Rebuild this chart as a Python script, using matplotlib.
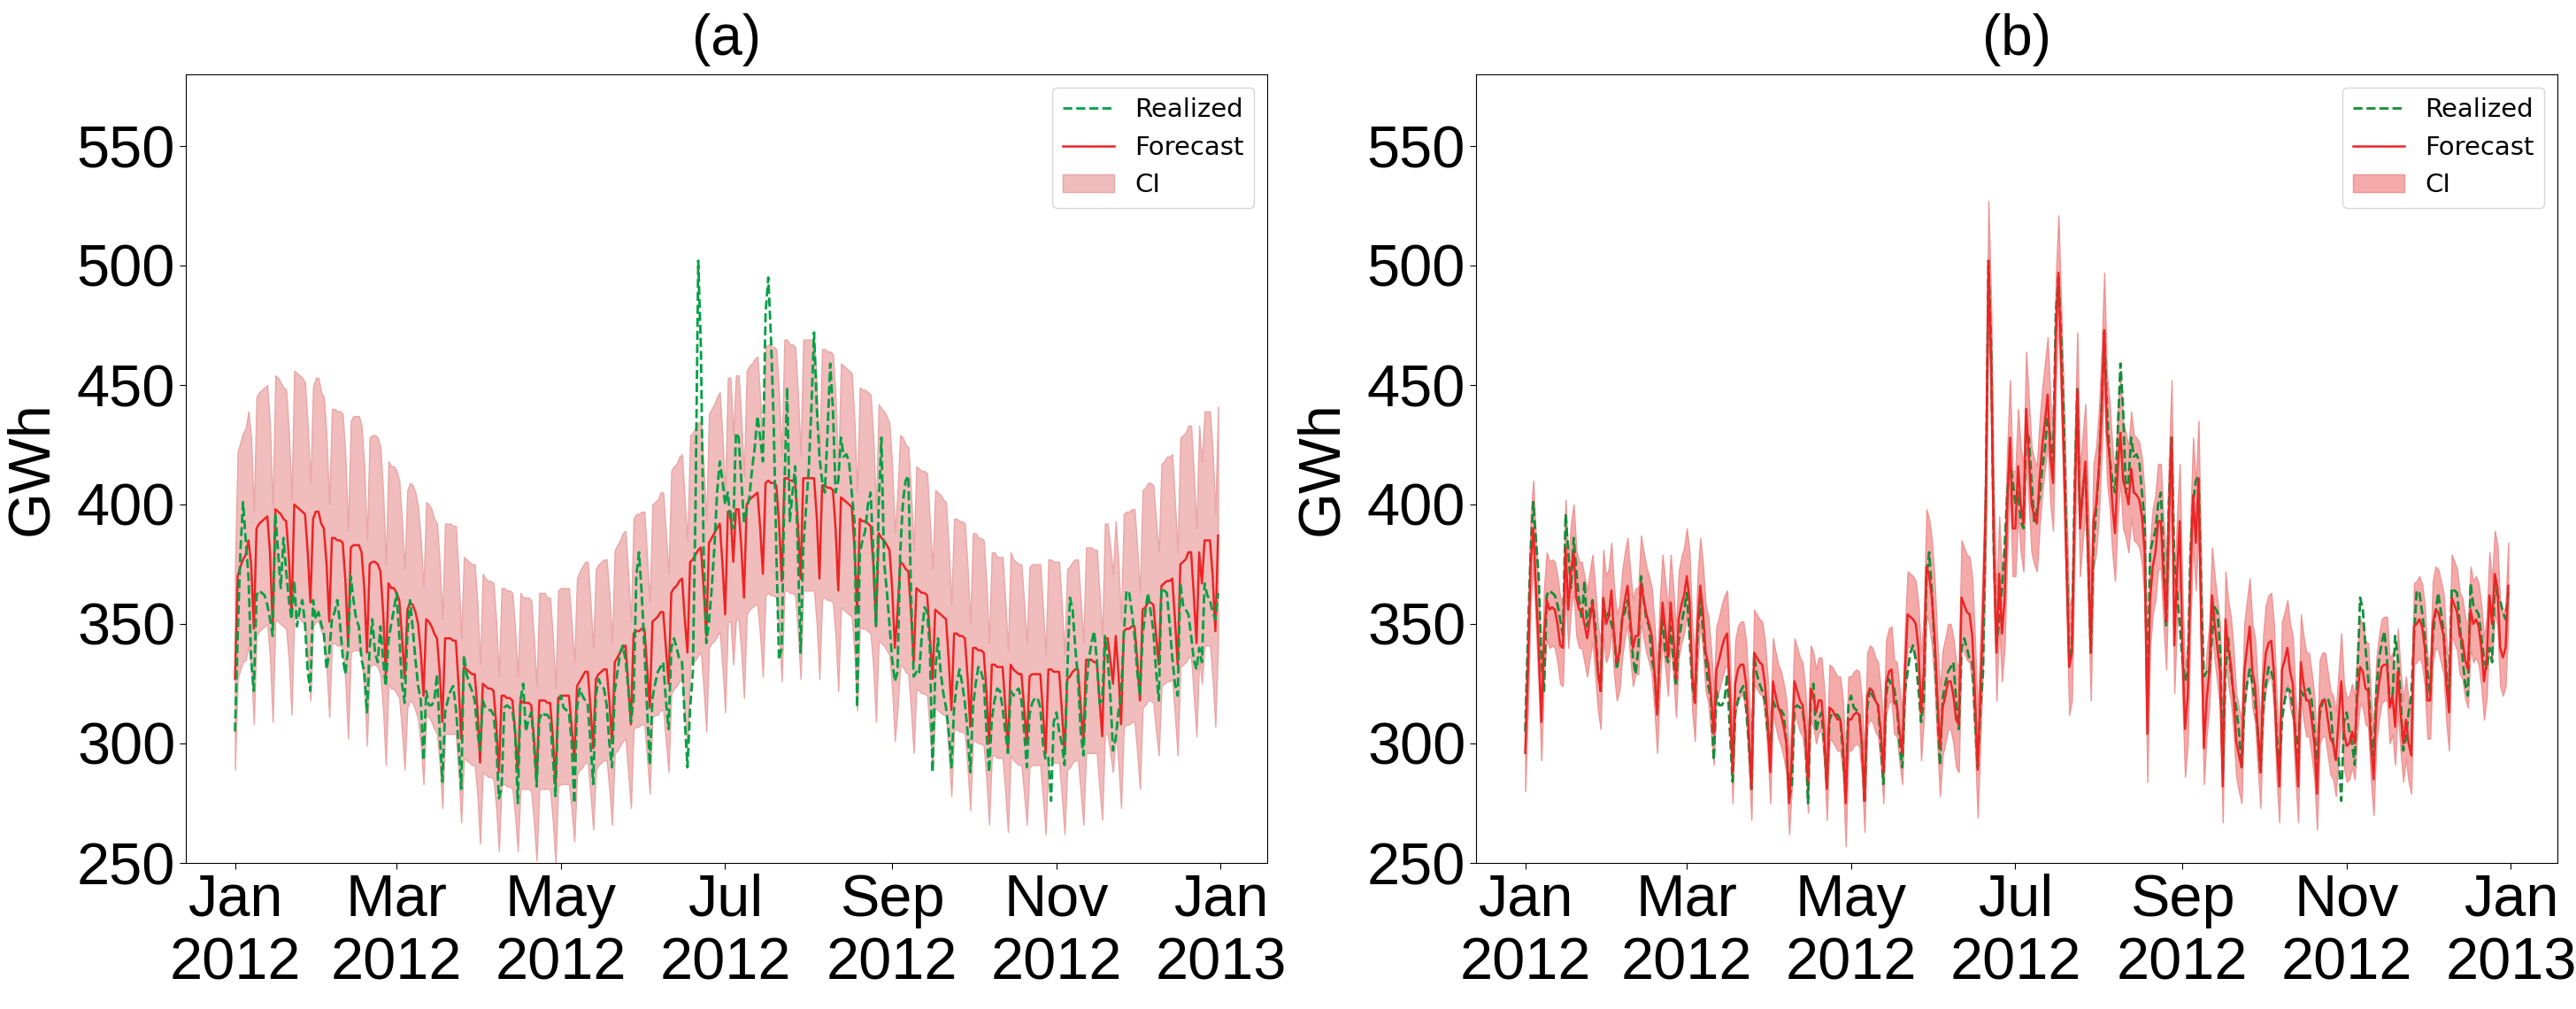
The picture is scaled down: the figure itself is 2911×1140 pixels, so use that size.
import pandas as pd
import matplotlib
matplotlib.use('Agg')
import matplotlib.pyplot as plt
import matplotlib.dates as mdates

# daily values for 2012, one row per week (Sun..Sat)
realized = [
    305, 345, 380, 401, 385, 370, 335,
    322, 362, 364, 363, 362, 358, 352,
    345, 396, 380, 365, 386, 372, 360,
    352, 368, 349, 356, 360, 350, 330,
    322, 360, 352, 355, 350, 346, 331,
    338, 352, 355, 360, 350, 336, 329,
    340, 370, 360, 352, 349, 335, 330,
    313, 340, 352, 338, 334, 349, 335,
    324, 343, 350, 356, 363, 345, 325,
    317, 345, 360, 348, 335, 324, 318,
    293, 322, 316, 316, 318, 329, 305,
    284, 313, 318, 322, 324, 315, 300,
    281, 337, 329, 325, 322, 318, 305,
    297, 318, 315, 314, 314, 312, 300,
    277, 282, 315, 316, 315, 314, 305,
    275, 318, 325, 305, 310, 313, 300,
    282, 310, 313, 312, 312, 310, 295,
    278, 316, 320, 315, 314, 313, 300,
    275, 315, 323, 320, 318, 316, 300,
    283, 320, 327, 324, 323, 316, 300,
    290, 322, 330, 338, 341, 335, 323,
    309, 318, 370, 380, 363, 340, 315,
    291, 319, 325, 330, 332, 334, 318,
    306, 340, 344, 340, 335, 334, 310,
    290, 315, 330, 400, 502, 465, 380,
    342, 351, 365, 382, 405, 418, 410,
    400, 405, 393, 390, 430, 428, 410,
    393, 398, 403, 415, 424, 437, 428,
    418, 480, 495, 470, 435, 380, 335,
    340, 407, 449, 393, 405, 416, 380,
    338, 382, 398, 414, 440, 472, 441,
    420, 410, 405, 430, 459, 440, 405,
    410, 428, 420, 421, 418, 405, 393,
    315, 380, 385, 389, 400, 405, 380,
    349, 400, 428, 376, 364, 350, 335,
    326, 330, 380, 401, 410, 412, 363,
    328, 330, 329, 345, 357, 355, 340,
    288, 330, 344, 330, 321, 315, 305,
    290, 315, 325, 331, 325, 317, 305,
    288, 315, 325, 332, 330, 326, 305,
    288, 310, 318, 323, 322, 315, 305,
    296, 322, 320, 322, 323, 318, 305,
    290, 312, 317, 319, 319, 315, 300,
    293, 294, 276, 309, 313, 305, 300,
    291, 329, 361, 356, 340, 327, 305,
    295, 322, 335, 342, 347, 335, 317,
    318, 345, 336, 320, 297, 302, 313,
    320, 345, 364, 363, 355, 345, 330,
    320, 345, 355, 363, 355, 347, 330,
    318, 365, 364, 363, 350, 336, 325,
    320, 367, 358, 356, 354, 345, 335,
    331, 340, 334, 367, 362, 360, 355,
    352, 363,
]

forecast_a = [
    327, 370, 374, 377, 379, 385, 375,
    348, 390, 392, 393, 394, 395, 380,
    349, 398, 397, 396, 394, 393, 378,
    353, 400, 399, 398, 397, 396, 380,
    359, 394, 397, 397, 392, 390, 375,
    351, 386, 386, 385, 385, 384, 368,
    341, 382, 383, 383, 383, 380, 365,
    338, 375, 376, 376, 375, 372, 355,
    329, 367, 365, 365, 363, 360, 345,
    327, 356, 359, 358, 355, 350, 338,
    320, 352, 351, 349, 346, 344, 330,
    309, 344, 344, 344, 343, 343, 325,
    302, 332, 331, 330, 329, 329, 315,
    292, 325, 324, 323, 323, 322, 308,
    288, 320, 320, 319, 319, 318, 305,
    288, 318, 317, 317, 317, 316, 302,
    284, 318, 318, 318, 317, 317, 303,
    283, 319, 320, 320, 320, 320, 307,
    293, 324, 326, 328, 330, 330, 315,
    298, 327, 329, 330, 331, 331, 318,
    300, 334, 336, 338, 340, 341, 325,
    308, 346, 347, 347, 348, 348, 332,
    315, 351, 352, 353, 355, 355, 340,
    325, 363, 365, 366, 368, 369, 352,
    338, 376, 377, 379, 381, 382, 365,
    345, 384, 386, 388, 390, 392, 375,
    354, 397, 397, 376, 398, 398, 382,
    361, 400, 402, 403, 404, 405, 390,
    371, 409, 410, 409, 409, 408, 392,
    368, 411, 411, 410, 410, 409, 392,
    369, 411, 411, 411, 411, 411, 395,
    369, 408, 408, 407, 407, 406, 390,
    364, 403, 402, 401, 400, 399, 382,
    355, 394, 393, 393, 392, 391, 375,
    349, 388, 386, 385, 383, 381, 365,
    340, 355, 376, 375, 373, 372, 355,
    334, 365, 364, 363, 363, 362, 345,
    327, 356, 355, 354, 353, 352, 335,
    314, 346, 346, 345, 345, 344, 328,
    307, 340, 340, 339, 339, 338, 322,
    300, 333, 333, 332, 332, 332, 316,
    297, 333, 331, 330, 329, 329, 315,
    300, 328, 329, 329, 329, 329, 313,
    296, 331, 331, 330, 330, 330, 314,
    296, 327, 328, 330, 331, 331, 316,
    300, 335, 335, 335, 334, 334, 318,
    303, 344, 344, 335, 325, 345, 330,
    308, 347, 348, 348, 349, 349, 335,
    318, 356, 357, 359, 359, 358, 345,
    333, 366, 367, 368, 368, 369, 352,
    333, 375, 376, 377, 380, 380, 362,
    342, 380, 367, 385, 385, 385, 370,
    347, 387,
]

ci_a_high = [
    373, 422, 426, 430, 432, 439, 428,
    397, 445, 447, 448, 449, 450, 433,
    398, 454, 453, 451, 449, 448, 431,
    402, 456, 455, 454, 453, 451, 433,
    409, 449, 453, 453, 447, 445, 428,
    400, 440, 440, 439, 439, 438, 420,
    389, 435, 437, 437, 437, 433, 416,
    385, 428, 429, 429, 428, 424, 405,
    375, 418, 416, 416, 414, 410, 393,
    373, 406, 409, 408, 405, 399, 385,
    365, 401, 400, 398, 394, 392, 376,
    352, 392, 392, 392, 391, 391, 371,
    344, 378, 377, 376, 375, 375, 359,
    333, 371, 369, 368, 368, 367, 351,
    328, 365, 365, 364, 364, 363, 348,
    328, 363, 361, 361, 361, 360, 344,
    324, 363, 363, 363, 361, 361, 345,
    323, 364, 365, 365, 365, 365, 350,
    334, 369, 372, 374, 376, 376, 359,
    340, 373, 375, 376, 377, 377, 363,
    342, 381, 383, 385, 388, 389, 371,
    351, 394, 396, 396, 397, 397, 378,
    359, 400, 401, 402, 405, 405, 388,
    371, 414, 416, 417, 420, 421, 401,
    385, 429, 430, 432, 434, 435, 416,
    393, 438, 440, 442, 445, 447, 428,
    404, 453, 453, 429, 454, 454, 435,
    412, 456, 458, 459, 461, 462, 445,
    423, 466, 467, 466, 466, 465, 447,
    420, 469, 469, 467, 467, 466, 447,
    421, 469, 469, 469, 469, 469, 450,
    421, 465, 465, 464, 464, 463, 445,
    415, 459, 458, 457, 456, 455, 435,
    405, 449, 448, 448, 447, 446, 428,
    398, 442, 440, 439, 437, 434, 416,
    388, 405, 429, 428, 425, 424, 405,
    381, 416, 415, 414, 414, 413, 393,
    373, 406, 405, 404, 402, 401, 382,
    358, 394, 394, 393, 393, 392, 374,
    350, 388, 388, 386, 386, 385, 367,
    342, 380, 380, 378, 378, 378, 360,
    339, 380, 377, 376, 375, 375, 359,
    342, 374, 375, 375, 375, 375, 357,
    337, 377, 377, 376, 376, 376, 358,
    337, 373, 374, 376, 377, 377, 360,
    342, 382, 382, 382, 381, 381, 363,
    345, 392, 392, 382, 371, 393, 376,
    351, 396, 397, 397, 398, 398, 382,
    363, 406, 407, 409, 409, 408, 393,
    380, 417, 418, 420, 420, 421, 401,
    380, 428, 429, 430, 433, 433, 413,
    390, 433, 418, 439, 439, 439, 422,
    396, 441,
]

ci_a_low = [
    289, 327, 331, 334, 335, 341, 332,
    308, 345, 347, 348, 349, 350, 336,
    309, 352, 351, 350, 349, 348, 335,
    312, 354, 353, 352, 351, 350, 336,
    318, 349, 351, 351, 347, 345, 332,
    311, 342, 342, 341, 341, 340, 326,
    302, 338, 339, 339, 339, 336, 323,
    299, 332, 333, 333, 332, 329, 314,
    291, 325, 323, 323, 321, 319, 305,
    289, 315, 318, 317, 314, 310, 299,
    283, 312, 311, 309, 306, 304, 292,
    273, 304, 304, 304, 304, 304, 288,
    267, 294, 293, 292, 291, 291, 279,
    258, 288, 287, 286, 286, 285, 273,
    255, 283, 283, 282, 282, 281, 270,
    255, 281, 281, 281, 281, 280, 267,
    251, 281, 281, 281, 281, 281, 268,
    250, 282, 283, 283, 283, 283, 272,
    259, 287, 289, 290, 292, 292, 279,
    264, 289, 291, 292, 293, 293, 281,
    266, 296, 297, 299, 301, 302, 288,
    273, 306, 307, 307, 308, 308, 294,
    279, 311, 312, 312, 314, 314, 301,
    288, 321, 323, 324, 326, 327, 312,
    299, 333, 334, 335, 337, 338, 323,
    305, 340, 342, 343, 345, 347, 332,
    313, 351, 351, 333, 352, 352, 338,
    319, 354, 356, 357, 358, 358, 345,
    328, 362, 363, 362, 362, 361, 347,
    326, 364, 364, 363, 363, 362, 347,
    327, 364, 364, 364, 364, 364, 350,
    327, 361, 361, 360, 360, 359, 345,
    322, 357, 356, 355, 354, 353, 338,
    314, 349, 348, 348, 347, 346, 332,
    309, 343, 342, 341, 339, 337, 323,
    301, 314, 333, 332, 330, 329, 314,
    296, 323, 322, 321, 321, 320, 305,
    289, 315, 314, 313, 312, 312, 296,
    278, 306, 306, 305, 305, 304, 290,
    272, 301, 301, 300, 300, 299, 285,
    266, 295, 295, 294, 294, 294, 280,
    263, 295, 293, 292, 291, 291, 279,
    266, 290, 291, 291, 291, 291, 277,
    262, 293, 293, 292, 292, 292, 278,
    262, 289, 290, 292, 293, 293, 280,
    266, 296, 296, 296, 296, 296, 281,
    268, 304, 304, 296, 288, 305, 292,
    273, 307, 308, 308, 309, 309, 296,
    281, 315, 316, 318, 318, 317, 305,
    295, 324, 325, 326, 326, 327, 312,
    295, 332, 333, 334, 336, 336, 320,
    303, 336, 325, 341, 341, 341, 327,
    307, 342,
]

forecast_b = [
    296, 330, 375, 390, 365, 340, 309,
    345, 360, 356, 357, 356, 350, 341,
    340, 382, 356, 372, 380, 361, 356,
    356, 350, 344, 352, 359, 345, 330,
    322, 361, 350, 353, 364, 345, 334,
    338, 352, 360, 366, 352, 340, 345,
    345, 367, 360, 354, 350, 345, 330,
    312, 340, 359, 348, 336, 359, 345,
    327, 352, 358, 362, 370, 360, 330,
    317, 350, 366, 355, 338, 333, 320,
    304, 331, 335, 340, 344, 346, 320,
    288, 325, 331, 333, 333, 325, 305,
    281, 338, 336, 334, 333, 325, 310,
    288, 326, 320, 315, 312, 307, 300,
    275, 295, 326, 322, 318, 316, 305,
    284, 323, 320, 313, 318, 318, 305,
    281, 315, 314, 312, 310, 310, 300,
    275, 310, 310, 312, 313, 312, 300,
    276, 320, 323, 322, 318, 316, 305,
    288, 325, 330, 331, 317, 316, 305,
    296, 330, 354, 353, 352, 350, 340,
    313, 330, 374, 370, 361, 345, 320,
    298, 315, 320, 326, 326, 320, 310,
    308, 361, 358, 355, 354, 345, 320,
    289, 320, 354, 400, 502, 460, 380,
    338, 371, 346, 360, 400, 428, 390,
    390, 416, 400, 392, 440, 420, 400,
    395, 392, 411, 425, 435, 446, 420,
    409, 470, 497, 460, 420, 375, 332,
    338, 400, 448, 390, 405, 418, 380,
    338, 393, 400, 415, 440, 473, 430,
    419, 400, 388, 415, 430, 410, 406,
    400, 415, 405, 404, 402, 395, 380,
    304, 360, 374, 380, 393, 393, 370,
    351, 395, 428, 341, 370, 393, 340,
    306, 320, 370, 404, 384, 411, 350,
    298, 318, 330, 362, 350, 340, 330,
    282, 352, 340, 333, 320, 301, 295,
    290, 330, 340, 349, 330, 324, 305,
    288, 325, 338, 342, 343, 330, 300,
    282, 331, 335, 340, 330, 325, 300,
    282, 334, 325, 318, 318, 310, 300,
    279, 315, 318, 318, 310, 302, 300,
    293, 310, 326, 305, 299, 300, 305,
    300, 320, 332, 330, 323, 322, 300,
    285, 315, 325, 332, 333, 333, 315,
    320, 307, 330, 313, 300, 310, 300,
    295, 349, 350, 352, 349, 340, 318,
    318, 350, 356, 355, 350, 345, 325,
    313, 361, 358, 355, 345, 343, 335,
    331, 356, 350, 352, 349, 340, 326,
    335, 362, 350, 371, 365, 340, 336,
    340, 366,
]

ci_b_high = [
    316, 350, 395, 410, 385, 360, 329,
    365, 380, 376, 377, 376, 370, 361,
    360, 402, 376, 392, 400, 381, 376,
    376, 370, 364, 372, 379, 365, 350,
    342, 381, 370, 373, 384, 365, 354,
    358, 372, 380, 386, 372, 360, 365,
    365, 387, 380, 374, 370, 365, 350,
    332, 360, 379, 368, 356, 379, 365,
    347, 372, 378, 382, 390, 380, 350,
    337, 370, 386, 375, 358, 353, 340,
    322, 349, 353, 358, 362, 364, 338,
    306, 343, 349, 351, 351, 343, 323,
    299, 356, 354, 352, 351, 343, 328,
    306, 344, 338, 333, 330, 325, 318,
    293, 313, 344, 340, 336, 334, 323,
    302, 341, 338, 331, 336, 336, 323,
    299, 333, 332, 330, 328, 328, 318,
    293, 328, 328, 330, 331, 330, 318,
    294, 338, 341, 340, 336, 334, 323,
    306, 343, 348, 349, 335, 334, 323,
    314, 348, 372, 371, 370, 368, 358,
    337, 354, 398, 394, 385, 369, 344,
    322, 339, 344, 350, 350, 344, 334,
    332, 385, 382, 379, 378, 369, 344,
    313, 344, 378, 424, 527, 484, 404,
    362, 395, 370, 384, 424, 452, 414,
    414, 440, 424, 416, 464, 444, 424,
    419, 416, 435, 449, 459, 470, 444,
    433, 494, 521, 484, 444, 399, 356,
    362, 424, 472, 414, 429, 442, 404,
    362, 417, 424, 439, 464, 497, 454,
    443, 424, 412, 439, 454, 434, 430,
    424, 439, 429, 428, 426, 419, 404,
    328, 384, 398, 404, 417, 417, 394,
    375, 419, 452, 365, 394, 417, 364,
    330, 344, 394, 428, 408, 435, 374,
    318, 338, 350, 382, 370, 360, 350,
    302, 372, 360, 353, 340, 321, 315,
    310, 350, 360, 369, 350, 344, 325,
    308, 345, 358, 362, 363, 350, 320,
    302, 351, 355, 360, 350, 345, 320,
    302, 354, 345, 338, 338, 330, 320,
    299, 335, 338, 338, 330, 322, 320,
    313, 330, 346, 325, 319, 320, 325,
    320, 340, 352, 350, 343, 342, 320,
    305, 335, 345, 352, 353, 353, 335,
    338, 325, 348, 331, 318, 328, 318,
    313, 367, 368, 370, 367, 358, 336,
    336, 368, 374, 373, 368, 363, 343,
    331, 379, 376, 373, 363, 361, 353,
    349, 374, 368, 370, 367, 358, 344,
    353, 380, 368, 389, 383, 358, 354,
    358, 384,
]

ci_b_low = [
    280, 314, 359, 374, 349, 324, 293,
    329, 344, 340, 341, 340, 334, 325,
    324, 366, 340, 356, 364, 345, 340,
    340, 334, 328, 336, 343, 329, 314,
    306, 345, 334, 337, 348, 329, 318,
    322, 336, 344, 350, 336, 324, 329,
    329, 351, 344, 338, 334, 329, 314,
    296, 324, 343, 332, 320, 343, 329,
    311, 336, 342, 346, 354, 344, 314,
    301, 334, 350, 339, 322, 317, 304,
    291, 318, 322, 327, 331, 333, 307,
    275, 312, 318, 320, 320, 312, 292,
    268, 325, 323, 321, 320, 312, 297,
    275, 313, 307, 302, 299, 294, 287,
    262, 282, 313, 309, 305, 303, 292,
    271, 310, 307, 300, 305, 305, 292,
    268, 302, 301, 299, 297, 297, 287,
    257, 297, 297, 299, 300, 299, 287,
    263, 307, 310, 309, 305, 303, 292,
    275, 312, 317, 318, 304, 303, 292,
    283, 317, 341, 340, 339, 337, 327,
    293, 310, 354, 350, 341, 325, 300,
    278, 295, 300, 306, 306, 300, 290,
    288, 341, 338, 335, 334, 325, 300,
    269, 300, 334, 380, 480, 440, 360,
    318, 351, 326, 340, 380, 408, 370,
    370, 396, 380, 372, 420, 400, 380,
    375, 372, 391, 405, 415, 426, 400,
    389, 450, 477, 440, 400, 355, 312,
    318, 380, 428, 370, 385, 398, 360,
    318, 373, 380, 395, 420, 453, 410,
    399, 380, 368, 395, 410, 390, 386,
    380, 395, 385, 384, 382, 375, 360,
    284, 340, 354, 360, 373, 373, 350,
    331, 375, 408, 321, 350, 373, 320,
    286, 300, 350, 384, 364, 391, 330,
    283, 303, 315, 347, 335, 325, 315,
    267, 337, 325, 318, 305, 286, 280,
    275, 315, 325, 334, 315, 309, 290,
    273, 310, 323, 327, 328, 315, 285,
    267, 316, 320, 325, 315, 310, 285,
    267, 319, 310, 303, 303, 295, 285,
    264, 300, 303, 303, 295, 287, 285,
    278, 295, 311, 290, 284, 285, 290,
    285, 305, 317, 315, 308, 307, 285,
    270, 300, 310, 317, 318, 318, 300,
    304, 291, 314, 297, 284, 294, 284,
    279, 333, 334, 336, 333, 324, 302,
    302, 334, 340, 339, 334, 329, 309,
    297, 345, 342, 339, 329, 327, 319,
    315, 340, 334, 336, 333, 324, 310,
    319, 346, 334, 355, 349, 324, 320,
    324, 350,
]

titles = ['(a)', '(b)']

plt.rcParams['font.family'] = ['Liberation Sans', 'DejaVu Sans']

days = pd.date_range('2012-01-01', periods=len(realized), freq='D')

fig = plt.figure(figsize=(29.11, 11.40), dpi=100)
ax_a = fig.add_axes([210 / 2911, 165 / 1140, 1222 / 2911, 891 / 1140])
ax_b = fig.add_axes([1668 / 2911, 165 / 1140, 1222 / 2911, 891 / 1140])

# axes, forecast, ci, green, fill, edge, forecast zorder
panels = [
    (ax_a, forecast_a, ci_a_low, ci_a_high, '#00a044', '#f0bcbc', '#eaa6a6', 2),
    (ax_b, forecast_b, ci_b_low, ci_b_high, '#148c38', '#f5aaaa', '#ef9494', 4),
]

for i, (ax, fc, lo, hi, green, fill, edge, fz) in enumerate(panels):
    ax.fill_between(days, lo, hi, facecolor=fill, edgecolor=edge,
                    linewidth=1.0, label='CI', zorder=1)
    ax.plot(days, realized, linestyle='--', color=green, linewidth=2.0,
            label='Realized', zorder=3)
    ax.plot(days, fc, color='#ee2424', linewidth=1.8, label='Forecast',
            zorder=fz)
    ax.set_ylim(250, 580)
    ax.set_yticks([250, 300, 350, 400, 450, 500, 550])
    ax.xaxis.set_major_locator(mdates.MonthLocator(bymonth=[1, 3, 5, 7, 9, 11]))
    ax.xaxis.set_major_formatter(mdates.DateFormatter('%b\n%Y'))
    ax.tick_params(labelsize=48, length=5)
    ax.set_ylabel('GWh', fontsize=48, labelpad=14)
    ax.set_title(titles[i], fontsize=46, pad=16)
    h, l = ax.get_legend_handles_labels()
    order = [l.index('Realized'), l.index('Forecast'), l.index('CI')]
    ax.legend([h[k] for k in order], [l[k] for k in order], loc='upper right',
              prop={'family': 'DejaVu Sans', 'size': 21})

fig.savefig('out.png', dpi=100)
